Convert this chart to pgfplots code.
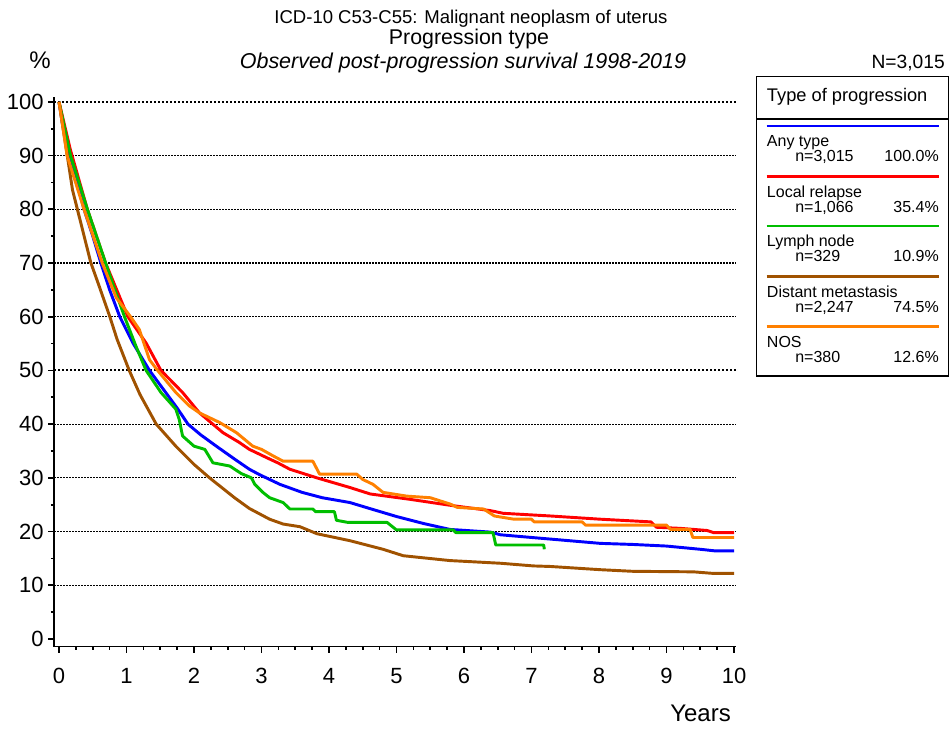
\documentclass[border=0pt]{standalone}
\usepackage{fontspec}
\setmainfont{Liberation Sans}
\usepackage{pgfplots}
\pgfplotsset{compat=1.18}
\definecolor{cblue}{RGB}{0,0,255}
\definecolor{cred}{RGB}{255,0,0}
\definecolor{cgreen}{RGB}{0,190,0}
\definecolor{cbrown}{RGB}{160,82,0}
\definecolor{corange}{RGB}{255,128,0}
\newcommand\entry[5]{%
  \draw[#1, line width=2.1pt] (766.7,#2) -- (939,#2);
  \node[anchor=base west, inner sep=0, font=\fontsize{12}{12}\selectfont] at (766.7,#2-20.7) {#3};
  \node[anchor=base west, inner sep=0, font=\fontsize{12}{12}\selectfont] at (795,#2-35.7) {#4};
  \node[anchor=base east, inner sep=0, font=\fontsize{12}{12}\selectfont] at (939,#2-35.7) {#5};
}
\begin{document}
\begin{tikzpicture}[x=0.75pt,y=0.75pt]
\path[use as bounding box] (0,0) rectangle (949,729);
\begin{axis}[
  at={(40.725pt,61.875pt)}, anchor=south west,
  scale only axis, width=511.3pt, height=412.1pt,
  xmin=-0.07, xmax=10.03, ymin=-1.4, ymax=100.9,
  axis x line*=bottom, axis y line*=left,
  axis line style={-, line width=1.25pt, black},
  xtick={0,1,...,10}, minor x tick num=3,
  ytick={0,10,...,100}, minor ytick={5,15,...,95},
  tick align=outside,
  major tick length=4.5pt, minor tick length=2.5pt,
  tick style={black, line width=1.25pt},
  ticklabel style={font=\fontsize{16.5}{16.5}\selectfont},
  xticklabel style={yshift=-8.5pt},
  /pgf/number format/assume math mode=true,
  every axis plot/.append style={line width=2.2pt, line join=round},
]
% grid lines
\addplot[forget plot, black, line width=0.9pt, dash pattern=on 0.9pt off 1.35pt] coordinates {(-0.07,10) (10.03,10)};
\addplot[forget plot, black, line width=0.9pt, dash pattern=on 0.9pt off 1.35pt] coordinates {(-0.07,20) (10.03,20)};
\addplot[forget plot, black, line width=0.9pt, dash pattern=on 0.9pt off 1.35pt] coordinates {(-0.07,30) (10.03,30)};
\addplot[forget plot, black, line width=0.9pt, dash pattern=on 0.9pt off 1.35pt] coordinates {(-0.07,40) (10.03,40)};
\addplot[forget plot, black, line width=0.9pt, dash pattern=on 0.9pt off 1.35pt] coordinates {(-0.07,60) (10.03,60)};
\addplot[forget plot, black, line width=0.9pt, dash pattern=on 0.9pt off 1.35pt] coordinates {(-0.07,70) (10.03,70)};
\addplot[forget plot, black, line width=0.9pt, dash pattern=on 0.9pt off 1.35pt] coordinates {(-0.07,80) (10.03,80)};
\addplot[forget plot, black, line width=0.9pt, dash pattern=on 0.9pt off 1.35pt] coordinates {(-0.07,90) (10.03,90)};
\addplot[forget plot, black, line width=1.5pt, dash pattern=on 1.5pt off 1.5pt] coordinates {(-0.07,50) (10.03,50)};
\addplot[forget plot, black, line width=1.5pt, dash pattern=on 1.5pt off 1.5pt] coordinates {(-0.07,100) (10.03,100)};
% Any type
\addplot[cblue] coordinates {
(0,100) (0.05,96) (0.12,92) (0.25,86) (0.37,80) (0.5,75) (0.62,70) (0.75,65) (0.9,60)
(1.1,55) (1.34,50) (1.58,45.9) (1.75,43) (1.91,40) (2.1,38) (2.33,35.9) (2.6,33.5)
(2.82,31.6) (2.97,30.6) (3.27,28.8) (3.6,27.3) (3.9,26.3) (4.31,25.4) (4.6,24.3)
(5.0,22.8) (5.4,21.5) (5.79,20.4) (6.39,19.9) (6.54,19.4) (7.0,18.9) (7.28,18.6)
(8.02,17.8) (8.5,17.6) (9.0,17.3) (9.5,16.7) (9.72,16.4) (10,16.4)};
% Local relapse
\addplot[cred] coordinates {
(0,100) (0.17,91) (0.42,80) (0.69,70) (1.02,60) (1.29,55.1) (1.51,50) (1.83,45.9)
(2.08,42.1) (2.43,38.4) (2.67,36.6) (2.82,35.3) (3.12,33.5) (3.24,32.8) (3.42,31.6)
(3.82,30.0) (4.31,28.2) (4.61,27.0) (5.2,26.0) (5.79,24.9) (6.39,23.9) (6.58,23.4)
(7.28,22.9) (8.02,22.3) (8.77,21.8) (8.85,20.8) (9.2,20.6) (9.6,20.2) (9.7,19.8) (10,19.8)};
% Lymph node
\addplot[cgreen] coordinates {
(0,100) (0.17,90) (0.42,80) (0.69,70) (0.8,66) (0.97,60) (1.14,54.5) (1.29,50)
(1.51,45.9) (1.73,42.8) (1.78,40.9) (1.83,37.8) (2.0,35.9) (2.16,35.3) (2.28,32.8)
(2.53,32.2) (2.7,30.8) (2.85,30.0) (2.9,28.8) (3.02,27.3) (3.12,26.3) (3.32,25.4)
(3.42,24.2) (3.76,24.2) (3.8,23.7) (4.08,23.7) (4.11,22.1) (4.28,21.7) (4.86,21.7)
(4.95,20.8) (5.0,20.3) (5.84,20.3) (5.88,19.8) (6.43,19.8) (6.47,17.5) (7.18,17.5) (7.19,16.7)};
% Distant metastasis
\addplot[cbrown] coordinates {
(0,100) (0.2,83.6) (0.47,70.1) (0.6,65.5) (0.75,60.1) (0.86,55.8) (1.04,50) (1.2,45.5)
(1.44,40) (1.73,35.9) (2.0,32.5) (2.23,30) (2.6,26.3) (2.82,24.3) (3.12,22.3)
(3.32,21.4) (3.57,20.9) (3.82,19.6) (4.31,18.3) (4.8,16.7) (5.1,15.5) (5.79,14.6)
(6.54,14.1) (7.03,13.6) (7.28,13.5) (8.02,12.9) (8.5,12.6) (9.4,12.5) (9.7,12.2) (10,12.2)};
% NOS
\addplot[corange] coordinates {
(0,100) (0.12,90) (0.37,80) (0.64,70) (0.85,63.5) (1.06,60) (1.19,57.6) (1.34,52)
(1.46,50) (1.73,45.9) (1.93,43.4) (2.08,42.1) (2.38,40.3) (2.63,38.4) (2.87,35.9)
(3.0,35.3) (3.17,34.1) (3.32,33.1) (3.76,33.1) (3.86,30.7) (4.41,30.7) (4.5,29.7)
(4.65,28.8) (4.8,27.3) (5.15,26.6) (5.5,26.3) (5.8,25.1) (5.9,24.5) (6.29,24.2)
(6.45,22.9) (6.74,22.3) (7.0,22.3) (7.04,21.8) (7.75,21.8) (7.8,21.2) (9.0,21.2)
(9.06,20.4) (9.35,20.4) (9.39,18.9) (10,18.9)};
\end{axis}
% titles
\node[anchor=base, inner sep=0, font=\fontsize{13.9}{13.9}\selectfont] at (471,705) {ICD-10 C53-C55: Malignant neoplasm of uterus};
\node[anchor=base, inner sep=0, font=\fontsize{16}{16}\selectfont] at (469,684) {Progression type};
\node[anchor=base, inner sep=0, font=\fontsize{16.1}{16.1}\itshape] at (463,660.7) {Observed post-progression survival 1998-2019};
\node[anchor=base, inner sep=0, font=\fontsize{18}{18}\selectfont] at (40,660) {\%};
\node[anchor=base east, inner sep=0, font=\fontsize{14.4}{14.4}\selectfont] at (945,660) {N=3,015};
\node[anchor=base east, inner sep=0, font=\fontsize{18}{18}\selectfont] at (731,7.3) {Years};
% legend
\draw[line width=1.1pt] (756.7,652.3) rectangle (948.3,353);
\draw[line width=1.1pt] (756.7,610) -- (948.3,610);
\node[anchor=base west, inner sep=0, font=\fontsize{13.7}{13.7}\selectfont] at (766.7,627.3) {Type of progression};
\entry{cblue}{603}{Any type}{n=3,015}{100.0\%}
\entry{cred}{552.3}{Local relapse}{n=1,066}{35.4\%}
\entry{cgreen}{503}{Lymph node}{n=329}{10.9\%}
\entry{cbrown}{452.3}{Distant metastasis}{n=2,247}{74.5\%}
\entry{corange}{402.3}{NOS}{n=380}{12.6\%}
\end{tikzpicture}
\end{document}
